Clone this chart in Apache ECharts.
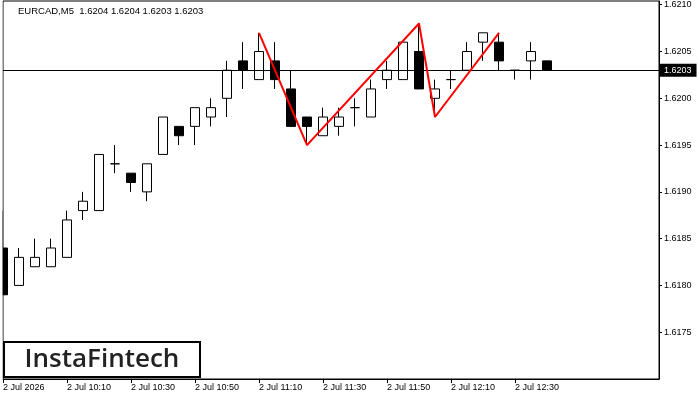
<!DOCTYPE html>
<html>
<head>
<meta charset="utf-8">
<script src="https://cdn.jsdelivr.net/npm/echarts@6/dist/echarts.min.js"></script>
<style>
    html, body { margin: 0; padding: 0; background: #fff; }
    #chart { width: 700px; height: 400px; }
</style>
</head>
<body>
<div id="chart"></div>
<script>
// EURCAD M5, 2 Jul
var times = ['09:50', '09:55', '10:00', '10:05', '10:10', '10:15', '10:20', '10:25', '10:30', '10:35',
    '10:40', '10:45', '10:50', '10:55', '11:00', '11:05', '11:10', '11:15', '11:20', '11:25',
    '11:30', '11:35', '11:40', '11:45', '11:50', '11:55', '12:00', '12:05', '12:10', '12:15',
    '12:20', '12:25', '12:30', '12:35', '12:40', '12:45', '12:50', '12:55', '13:00', '13:05',
    '13:10', '13:15'];

var opens = [1.6184, 1.6180, 1.6182, 1.6182, 1.6183, 1.6188, 1.6188, 1.6193, 1.6192, 1.6190,
    1.6194, 1.6197, 1.6197, 1.6198, 1.6200, 1.6204, 1.6202, 1.6204, 1.6201, 1.6198,
    1.6196, 1.6197, 1.6199, 1.6198, 1.6202, 1.6202, 1.6205, 1.6200, 1.6202, 1.6203,
    1.6206, 1.6206, 1.6203, 1.6204, 1.6204];
var closes = [1.6179, 1.6183, 1.6183, 1.6184, 1.6187, 1.6189, 1.6194, 1.6193, 1.6191, 1.6193,
    1.6198, 1.6196, 1.6199, 1.6199, 1.6203, 1.6203, 1.6205, 1.6202, 1.6197, 1.6197,
    1.6198, 1.6198, 1.6199, 1.6201, 1.6203, 1.6206, 1.6201, 1.6201, 1.6202, 1.6205,
    1.6207, 1.6204, 1.6203, 1.6205, 1.6203];
var lows = [1.6179, 1.6180, 1.6182, 1.6182, 1.6183, 1.6187, 1.6188, 1.6192, 1.6190, 1.6189,
    1.6194, 1.6195, 1.6195, 1.6197, 1.6198, 1.6201, 1.6202, 1.6201, 1.6197, 1.6195,
    1.6196, 1.6196, 1.6197, 1.6198, 1.6201, 1.6202, 1.6201, 1.6198, 1.6201, 1.6203,
    1.6204, 1.6203, 1.6202, 1.6202, 1.6203];
var highs = [1.6188, 1.6184, 1.6185, 1.6185, 1.6188, 1.6190, 1.6194, 1.6195, 1.6192, 1.6193,
    1.6198, 1.6197, 1.6199, 1.6200, 1.6204, 1.6206, 1.6207, 1.6206, 1.6203, 1.6198,
    1.6199, 1.6199, 1.6200, 1.6202, 1.6204, 1.6206, 1.6208, 1.6202, 1.6203, 1.6206,
    1.6207, 1.6207, 1.6203, 1.6206, 1.6204];

// pattern line (bar index, price)
var patternIdx = [16, 19, 26, 27, 31];
var patternPrice = [1.6207, 1.6195, 1.6208, 1.6198, 1.6207];

var lastPrice = 1.6203;
var titleText = 'EURCAD,M5  1.6204 1.6204 1.6203 1.6203';

var candles = [];
for (var i = 0; i < opens.length; i++) {
    candles.push([opens[i], closes[i], lows[i], highs[i]]);
}
var pattern = [];
for (var j = 0; j < patternIdx.length; j++) {
    pattern.push([patternIdx[j], patternPrice[j]]);
}

var fnt = 'Liberation Sans';

function showTick(index) {
    return index % 4 === 0 && index < opens.length;
}

var option = {
    animation: false,
    backgroundColor: '#fff',
    title: {
        text: titleText,
        left: 18,
        top: 6,
        padding: 0,
        textStyle: {
            fontFamily: fnt,
            fontSize: 9.5,
            fontWeight: 'normal',
            color: '#000'
        }
    },
    grid: {
        left: 3,
        right: 41,
        top: 1,
        bottom: 21,
        show: true,
        borderColor: '#000',
        borderWidth: 1
    },
    xAxis: {
        type: 'category',
        data: times,
        boundaryGap: false,
        axisLine: {lineStyle: {color: '#000', width: 1}},
        axisTick: {
            interval: showTick,
            length: 4,
            lineStyle: {color: '#000'}
        },
        axisLabel: {
            interval: showTick,
            align: 'left',
            margin: 4,
            fontFamily: fnt,
            fontSize: 9,
            color: '#000',
            formatter: function (v, idx) {
                return idx === 0 ? '2 Jul 2026' : '2 Jul ' + v;
            }
        },
        splitLine: {show: false}
    },
    yAxis: {
        type: 'value',
        position: 'right',
        min: 1.6170,
        max: 1.62104,
        interval: 0.0005,
        axisLine: {show: true, lineStyle: {color: '#000', width: 1}},
        axisTick: {show: true, length: 3, lineStyle: {color: '#000'}},
        axisLabel: {
            margin: 5,
            fontFamily: fnt,
            fontSize: 9,
            color: '#000',
            showMinLabel: false,
            showMaxLabel: false,
            formatter: function (v) {
                return v.toFixed(4);
            }
        },
        splitLine: {show: false}
    },
    series: [
        {
            type: 'candlestick',
            data: candles,
            barWidth: 10,
            clip: true,
            itemStyle: {
                color: '#fff',
                color0: '#000',
                borderColor: '#000',
                borderColor0: '#000',
                borderWidth: 1
            },
            markLine: {
                silent: true,
                symbol: ['none', 'none'],
                precision: 4,
                animation: false,
                lineStyle: {color: '#000', width: 1, type: 'solid'},
                label: {
                    show: true,
                    position: 'end',
                    distance: 1,
                    formatter: lastPrice.toFixed(4),
                    backgroundColor: '#000',
                    color: '#fff',
                    fontFamily: fnt,
                    fontSize: 9,
                    padding: [2, 5, 2, 4]
                },
                data: [{yAxis: lastPrice}]
            }
        },
        {
            type: 'line',
            data: pattern,
            symbol: 'none',
            z: 5,
            silent: true,
            lineStyle: {color: '#ff0000', width: 2}
        }
    ],
    graphic: [
        {
            // hide the part of the first bar that falls left of the chart frame
            type: 'rect',
            shape: {x: 0, y: 0, width: 2.5, height: 380},
            style: {fill: '#fff'},
            z: 100
        },
        {
            type: 'rect',
            shape: {x: 4, y: 342, width: 196, height: 35},
            style: {fill: '#fff', stroke: '#000', lineWidth: 2},
            z: 100
        },
        {
            type: 'text',
            x: 102,
            y: 360,
            style: {
                text: 'InstaFintech',
                fontFamily: 'Open Sans',
                fontSize: 26,
                fontWeight: 600,
                fill: '#222',
                textAlign: 'center',
                textVerticalAlign: 'middle'
            },
            z: 101
        }
    ]
};

window.onload = function () {
    var myChart = echarts.init(document.getElementById('chart'));
    myChart.setOption(option);
};
</script>
</body>
</html>
